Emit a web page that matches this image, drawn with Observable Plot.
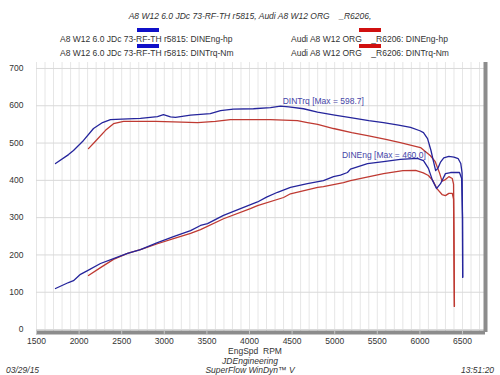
<!DOCTYPE html>
<html>
<head>
<meta charset="utf-8">
<script src="https://cdn.jsdelivr.net/npm/d3@7"></script>
<script src="https://cdn.jsdelivr.net/npm/@observablehq/plot@0.6"></script>
<style>
  body { margin: 0; background: #fff; }
  #wrap { position: relative; width: 500px; height: 375px; overflow: hidden; font-family: "Liberation Sans", Arial, sans-serif; color: #333; }
  .t { position: absolute; font-size: 8.5px; white-space: pre; line-height: 1; }
  .i { font-style: italic; }
  .sw { position: absolute; height: 4px; width: 22px; }
  #chart { position: absolute; left: 0; top: 55px; }
</style>
</head>
<body>
<div id="wrap">
  <div class="t i" id="ttl" style="left:0;width:500px;text-align:center;top:12px;"></div>
  <div class="sw" style="left:137px;top:28px;background:#1010c8"></div>
  <div class="sw" style="left:137px;top:44px;background:#1010c8"></div>
  <div class="sw" style="left:359px;top:28px;background:#d01010"></div>
  <div class="sw" style="left:359px;top:44px;background:#d01010"></div>
  <div class="t" id="lg1" style="left:60px;top:35px;"></div>
  <div class="t" id="lg2" style="left:60px;top:49px;"></div>
  <div class="t" id="lg3" style="left:291px;top:35px;"></div>
  <div class="t" id="lg4" style="left:291px;top:49px;"></div>
  <div id="chart"></div>
  <div class="t" style="left:0;width:500px;text-align:center;top:347px;"><span style="position:relative;left:5px">EngSpd  RPM</span></div>
  <div class="t i" style="left:0;width:500px;text-align:center;top:357px;">JDEngineering</div>
  <div class="t i" style="left:0;width:500px;text-align:center;top:366px;">SuperFlow WinDyn™ V</div>
  <div class="t i" style="left:6px;top:366px;">03/29/15</div>
  <div class="t i" style="left:461px;top:366px;">13:51:20</div>
</div>
<script>
// ---- Data ----
const title = "A8 W12 6.0 JDc 73-RF-TH r5815, Audi A8 W12 ORG    _R6206,";
const legendLabels = [
  "A8 W12 6.0 JDc 73-RF-TH r5815: DINEng-hp",
  "A8 W12 6.0 JDc 73-RF-TH r5815: DINTrq-Nm",
  "Audi A8 W12 ORG    _R6206: DINEng-hp",
  "Audi A8 W12 ORG    _R6206: DINTrq-Nm"
];
const xTicks = [1500, 2000, 2500, 3000, 3500, 4000, 4500, 5000, 5500, 6000, 6500];
const yTicks = [0, 100, 200, 300, 400, 500, 600, 700];

// A8 W12 6.0 JDc (blue) torque, Nm  [rpm, value]
const blueTrq = [
  [1723,445],[1876,469],[1934,480],[2052,507],[2169,539],[2275,555],[2368,563],[2500,564],
  [2720,566],[2920,571],[2990,576],[3073,570],[3131,569],[3308,575],[3540,579],[3660,587],
  [3810,591],[4047,592],[4246,595],[4364,599],[4460,597],[4634,592],[4798,583],[5000,575],
  [5185,568],[5400,560],[5573,555],[5750,548],[5890,542],[6000,533],[6042,528],[6090,512],
  [6130,480],[6160,450],[6185,426],[6210,432],[6240,448],[6280,460],[6340,464],[6400,462],
  [6450,458],[6480,445],[6495,420],[6500,300],[6502,140]
];
// A8 W12 6.0 JDc (blue) power, hp
const blueHp = [
  [1723,110],[1876,126],[1934,131],[2016,148],[2099,158],[2251,177],[2404,190],[2568,204],
  [2720,214],[2920,233],[3108,249],[3308,265],[3425,279],[3507,284],[3695,306],[3894,324],
  [4094,342],[4200,355],[4329,368],[4481,381],[4680,391],[4868,399],[4986,410],[5068,414],
  [5150,421],[5185,430],[5385,445],[5573,450],[5770,456],[5970,459],[6042,453],[6100,432],
  [6148,400],[6195,378],[6242,391],[6300,418],[6360,421],[6465,421],[6490,405],[6500,300],[6502,140]
];
// Audi A8 W12 ORG (red) torque, Nm
const redTrq = [
  [2110,485],[2192,505],[2310,534],[2404,552],[2521,558],[2720,558],[2900,558],[3108,557],
  [3390,555],[3600,558],[3777,563],[4000,563],[4246,563],[4563,560],[4680,555],[4800,550],
  [4986,539],[5200,528],[5385,520],[5600,510],[5770,501],[6007,488],[6124,466],[6180,450],
  [6230,420],[6260,398],[6300,402],[6340,410],[6380,405],[6395,390],[6400,250],[6405,62]
];
// Audi A8 W12 ORG (red) power, hp
const redHp = [
  [2110,145],[2251,166],[2404,188],[2568,204],[2720,214],[2920,230],[3108,244],[3308,258],
  [3425,268],[3695,297],[4010,324],[4094,332],[4400,354],[4481,364],[4800,381],[4868,383],
  [5103,394],[5185,399],[5573,418],[5800,426],[5950,427],[6040,420],[6100,413],[6150,400],
  [6200,378],[6260,362],[6300,359],[6340,365],[6380,365],[6395,350],[6400,200],[6405,62]
];
const annotations = [
  {rpm: 4390, val: 611, text: "DINTrq [Max = 598.7]"},
  {rpm: 5085, val: 468, text: "DINEng [Max = 460.0]"}
];

// ---- Header / legend text ----
document.getElementById("ttl").textContent = title;
["lg1","lg2","lg3","lg4"].forEach((id, i) => document.getElementById(id).textContent = legendLabels[i]);

// ---- Build ----
const BLUE = "#25259c";
const RED = "#bf3a32";
const X_MIN = 1500, X_MAX = 6770, Y_MIN = -8, Y_MAX = 716;
const minorX = d3.range(1500, 6770, 100);

const toRows = (arr) => arr.map(([rpm, v]) => ({rpm, v}));

const chart = Plot.plot({
  width: 500,
  height: 320,
  marginTop: 7,
  marginBottom: 43,
  marginLeft: 36,
  marginRight: 15,
  x: {domain: [X_MIN, X_MAX]},
  y: {domain: [Y_MIN, Y_MAX]},
  style: {fontFamily: "Liberation Sans, Arial, sans-serif", fontSize: "8.5px", color: "#333", background: "transparent"},
  marks: [
    Plot.ruleX(minorX, {stroke: "#e6e6e6", strokeWidth: 1}),
    Plot.ruleY(yTicks, {stroke: "#d9d9d9", strokeWidth: 1}),
    Plot.axisX({ticks: xTicks, tickSize: 0, tickPadding: 5, label: null, tickFormat: d => String(d)}),
    Plot.axisY({ticks: yTicks, tickSize: 0, tickPadding: 13, label: null, tickFormat: d => String(d)}),
    Plot.line(toRows(redHp), {x: "rpm", y: "v", stroke: RED, strokeWidth: 1.3}),
    Plot.line(toRows(redTrq), {x: "rpm", y: "v", stroke: RED, strokeWidth: 1.3}),
    Plot.line(toRows(blueHp), {x: "rpm", y: "v", stroke: BLUE, strokeWidth: 1.3}),
    Plot.line(toRows(blueTrq), {x: "rpm", y: "v", stroke: BLUE, strokeWidth: 1.3}),
    Plot.text(annotations, {x: "rpm", y: "val", text: "text", textAnchor: "start", fill: "#4646a8", fontSize: 8.5}),
    Plot.ruleY([Y_MIN], {stroke: "#8c8c8c", strokeWidth: 4}),
    Plot.ruleX([X_MAX], {stroke: "#8c8c8c", strokeWidth: 4}),
    Plot.ruleX(xTicks, {y1: Y_MIN - 5, y2: Y_MIN + 5, stroke: "#c8c8c8", strokeWidth: 1})
  ]
});
document.getElementById("chart").appendChild(chart);
</script>
</body>
</html>
